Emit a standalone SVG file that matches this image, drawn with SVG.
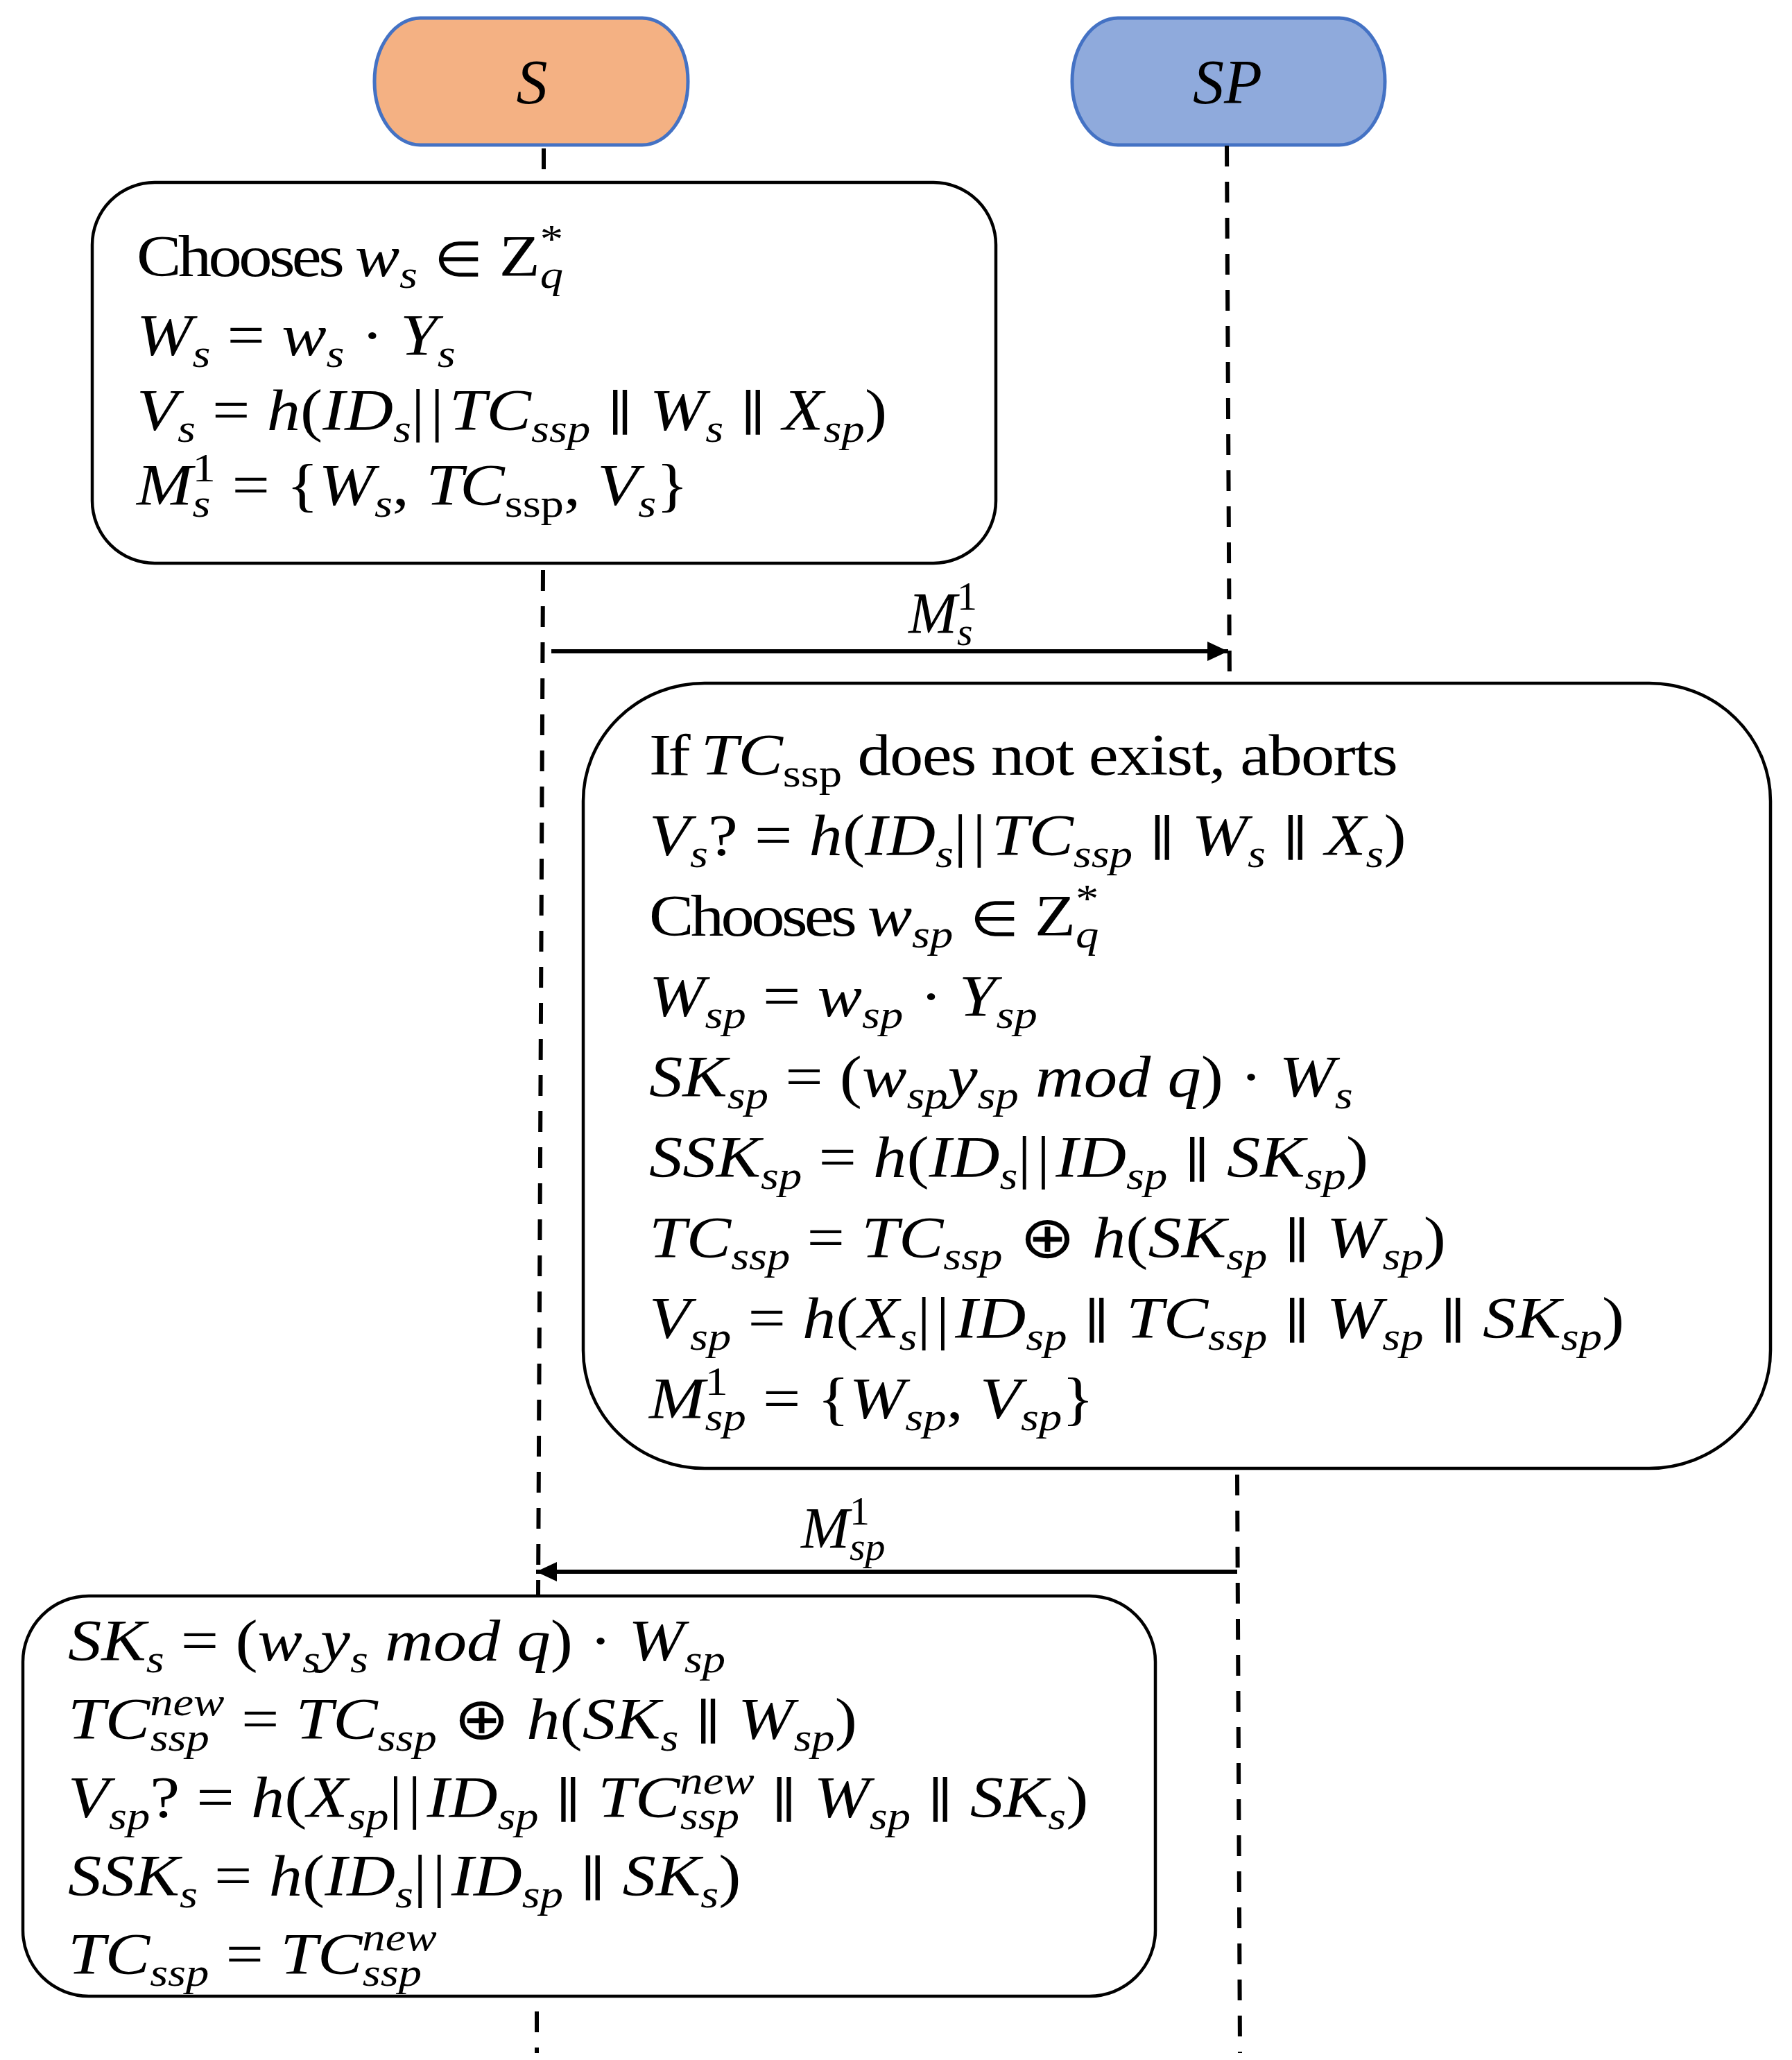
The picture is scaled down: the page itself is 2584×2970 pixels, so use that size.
<svg xmlns="http://www.w3.org/2000/svg" width="2584" height="2970" viewBox="0 0 2584 2970">
<style>
.t{font-family:"Liberation Serif",serif;font-size:84px;font-style:italic;fill:#000}
.u{font-style:normal}
.s{font-size:58px}
.w1{letter-spacing:-4px}
.w2{letter-spacing:-1.5px}
.el{font-size:70px}
.bb{letter-spacing:7px}
.par{font-family:"DejaVu Serif",serif;font-size:70px;font-style:normal}
.box{fill:#fff;stroke:#000;stroke-width:4.5}
.life{fill:none;stroke:#000;stroke-width:6;stroke-dasharray:30 22}
.msg{fill:none;stroke:#000;stroke-width:6}
.lbl{font-family:"Liberation Serif",serif;font-size:90px;font-style:italic;fill:#000;text-anchor:middle}
</style>
<defs>
<marker id="ah" markerUnits="userSpaceOnUse" markerWidth="34" markerHeight="32" refX="30" refY="16" orient="auto">
<path d="M0,2 L30,16 L0,30 Z" fill="#000"/>
</marker>
</defs>

<g id="node-S">
<rect x="540" y="26" width="452" height="183" rx="66" ry="91" fill="#F4B183" stroke="#4472C4" stroke-width="5"/>
<text class="lbl" x="767" y="149">S</text>
</g>
<g id="node-SP">
<rect x="1546" y="26" width="451" height="183" rx="66" ry="91" fill="#8FAADC" stroke="#4472C4" stroke-width="5"/>
<text class="lbl" x="1770" y="149">SP</text>
</g>

<g id="connectors">
<line class="life" x1="784" y1="214" x2="784" y2="262"/>
<line class="life" x1="783" y1="822" x2="776" y2="2300"/>
<line class="life" x1="774" y1="2900" x2="774" y2="2960"/>
<line class="life" x1="1769" y1="210" x2="1773" y2="985"/>
<line class="life" x1="1784" y1="2126" x2="1788" y2="2960"/>
<line class="msg" x1="795" y1="939" x2="1771" y2="939" marker-end="url(#ah)"/>
<line class="msg" x1="1784" y1="2266" x2="773" y2="2266" marker-end="url(#ah)"/>
<text class="t" x="1310" y="913">M<tspan class="s u" dy="-34">1</tspan><tspan class="s" dx="-29" dy="51">s</tspan></text>
<text class="t" x="1155" y="2232">M<tspan class="s u" dy="-34">1</tspan><tspan class="s" dx="-29" dy="51">sp</tspan></text>
</g>

<g id="box-S1">
<rect class="box" x="133" y="263" width="1303" height="549" rx="90" ry="90"/>
<g transform="translate(197,398) scale(1.15,1)"><text class="t"><tspan class="u w1">Chooses </tspan>w<tspan class="s" dy="17">s</tspan><tspan class="u" dy="-17"> <tspan class="el">∈</tspan> Z</tspan><tspan class="s u" dy="-34">*</tspan><tspan class="s" dx="-29" dy="51">q</tspan></text></g>
<g transform="translate(197,512) scale(1.15,1)"><text class="t">W<tspan class="s" dy="17">s</tspan><tspan class="u" dy="-17"> = </tspan>w<tspan class="s" dy="17">s</tspan><tspan class="u" dy="-17"> · </tspan>Y<tspan class="s" dy="17">s</tspan></text></g>
<g transform="translate(197,620) scale(1.15,1)"><text class="t">V<tspan class="s" dy="17">s</tspan><tspan class="u" dy="-17"> = </tspan>h<tspan class="u">(</tspan>ID<tspan class="s" dy="17">s</tspan><tspan class="u bb" dy="-17">||</tspan>TC<tspan class="s" dy="17">ssp</tspan><tspan class="u" dy="-17"> <tspan class="par">∥</tspan> </tspan>W<tspan class="s" dy="17">s</tspan><tspan class="u" dy="-17"> <tspan class="par">∥</tspan> </tspan>X<tspan class="s" dy="17">sp</tspan><tspan class="u" dy="-17">)</tspan></text></g>
<g transform="translate(197,728) scale(1.15,1)"><text class="t">M<tspan class="s u" dy="-34">1</tspan><tspan class="s" dx="-29" dy="51">s</tspan><tspan class="u" dx="6" dy="-17"> = {</tspan>W<tspan class="s" dy="17">s</tspan><tspan class="u" dy="-17">, </tspan>T<tspan dx="-4">C</tspan><tspan class="s u" dy="17">ssp</tspan><tspan class="u" dy="-17">, </tspan>V<tspan class="s" dy="17">s</tspan><tspan class="u" dy="-17">}</tspan></text></g>
</g>

<g id="box-SP1">
<rect class="box" x="841" y="985" width="1712" height="1132" rx="175" ry="170"/>
<g transform="translate(936,1117) scale(1.15,1)"><text class="t"><tspan class="u w1">If </tspan>TC<tspan class="s u" dy="17">ssp</tspan><tspan class="u w2" dy="-17"> does not exist, aborts</tspan></text></g>
<g transform="translate(936,1233) scale(1.15,1)"><text class="t">V<tspan class="s" dy="17">s</tspan><tspan class="u" dy="-17">? = </tspan>h<tspan class="u">(</tspan>ID<tspan class="s" dy="17">s</tspan><tspan class="u bb" dy="-17">||</tspan>TC<tspan class="s" dy="17">ssp</tspan><tspan class="u" dy="-17"> <tspan class="par">∥</tspan> </tspan>W<tspan class="s" dy="17">s</tspan><tspan class="u" dy="-17"> <tspan class="par">∥</tspan> </tspan>X<tspan class="s" dy="17">s</tspan><tspan class="u" dy="-17">)</tspan></text></g>
<g transform="translate(936,1349) scale(1.15,1)"><text class="t"><tspan class="u w1">Chooses </tspan>w<tspan class="s" dy="17">sp</tspan><tspan class="u" dy="-17"> <tspan class="el">∈</tspan> Z</tspan><tspan class="s u" dy="-34">*</tspan><tspan class="s" dx="-29" dy="51">q</tspan></text></g>
<g transform="translate(936,1465) scale(1.15,1)"><text class="t">W<tspan class="s" dy="17">sp</tspan><tspan class="u" dy="-17"> = </tspan>w<tspan class="s" dy="17">sp</tspan><tspan class="u" dy="-17"> · </tspan>Y<tspan class="s" dy="17">sp</tspan></text></g>
<g transform="translate(936,1581) scale(1.15,1)"><text class="t">SK<tspan class="s" dy="17">sp</tspan><tspan class="u" dy="-17"> = (</tspan>w<tspan class="s" dy="17">sp</tspan><tspan dy="-17">y</tspan><tspan class="s" dy="17">sp</tspan><tspan dy="-17"> mod q</tspan><tspan class="u">) · </tspan>W<tspan class="s" dy="17">s</tspan></text></g>
<g transform="translate(936,1697) scale(1.15,1)"><text class="t">SSK<tspan class="s" dy="17">sp</tspan><tspan class="u" dy="-17"> = </tspan>h<tspan class="u">(</tspan>ID<tspan class="s" dy="17">s</tspan><tspan class="u bb" dy="-17">||</tspan>ID<tspan class="s" dy="17">sp</tspan><tspan class="u" dy="-17"> <tspan class="par">∥</tspan> </tspan>SK<tspan class="s" dy="17">sp</tspan><tspan class="u" dy="-17">)</tspan></text></g>
<g transform="translate(936,1813) scale(1.15,1)"><text class="t">TC<tspan class="s" dy="17">ssp</tspan><tspan class="u" dy="-17"> = </tspan>TC<tspan class="s" dy="17">ssp</tspan><tspan class="u" dy="-17"> ⊕ </tspan>h<tspan class="u">(</tspan>SK<tspan class="s" dy="17">sp</tspan><tspan class="u" dy="-17"> <tspan class="par">∥</tspan> </tspan>W<tspan class="s" dy="17">sp</tspan><tspan class="u" dy="-17">)</tspan></text></g>
<g transform="translate(936,1929) scale(1.15,1)"><text class="t">V<tspan class="s" dy="17">sp</tspan><tspan class="u" dy="-17"> = </tspan>h<tspan class="u">(</tspan>X<tspan class="s" dy="17">s</tspan><tspan class="u bb" dy="-17">||</tspan>ID<tspan class="s" dy="17">sp</tspan><tspan class="u" dy="-17"> <tspan class="par">∥</tspan> </tspan>TC<tspan class="s" dy="17">ssp</tspan><tspan class="u" dy="-17"> <tspan class="par">∥</tspan> </tspan>W<tspan class="s" dy="17">sp</tspan><tspan class="u" dy="-17"> <tspan class="par">∥</tspan> </tspan>SK<tspan class="s" dy="17">sp</tspan><tspan class="u" dy="-17">)</tspan></text></g>
<g transform="translate(936,2045) scale(1.15,1)"><text class="t">M<tspan class="s u" dy="-34">1</tspan><tspan class="s" dx="-29" dy="51">sp</tspan><tspan class="u" dy="-17"> = {</tspan>W<tspan class="s" dy="17">sp</tspan><tspan class="u" dy="-17">, </tspan>V<tspan class="s" dy="17">sp</tspan><tspan class="u" dy="-17">}</tspan></text></g>
</g>

<g id="box-S2">
<rect class="box" x="33" y="2301" width="1633" height="577" rx="95" ry="95"/>
<g transform="translate(98,2394) scale(1.15,1)"><text class="t">SK<tspan class="s" dy="17">s</tspan><tspan class="u" dy="-17"> = (</tspan>w<tspan class="s" dy="17">s</tspan><tspan dy="-17">y</tspan><tspan class="s" dy="17">s</tspan><tspan dy="-17"> mod q</tspan><tspan class="u">) · </tspan>W<tspan class="s" dy="17">sp</tspan></text></g>
<g transform="translate(98,2507) scale(1.15,1)"><text class="t">TC<tspan class="s" dy="-34">new</tspan><tspan class="s" dx="-93" dy="51">ssp</tspan><tspan class="u" dx="19" dy="-17"> = </tspan>TC<tspan class="s" dy="17">ssp</tspan><tspan class="u" dy="-17"> ⊕ </tspan>h<tspan class="u">(</tspan>SK<tspan class="s" dy="17">s</tspan><tspan class="u" dy="-17"> <tspan class="par">∥</tspan> </tspan>W<tspan class="s" dy="17">sp</tspan><tspan class="u" dy="-17">)</tspan></text></g>
<g transform="translate(98,2620) scale(1.15,1)"><text class="t">V<tspan class="s" dy="17">sp</tspan><tspan class="u" dy="-17">? = </tspan>h<tspan class="u">(</tspan>X<tspan class="s" dy="17">sp</tspan><tspan class="u bb" dy="-17">||</tspan>ID<tspan class="s" dy="17">sp</tspan><tspan class="u" dy="-17"> <tspan class="par">∥</tspan> </tspan>TC<tspan class="s" dy="-34">new</tspan><tspan class="s" dx="-93" dy="51">ssp</tspan><tspan class="u" dx="19" dy="-17"> <tspan class="par">∥</tspan> </tspan>W<tspan class="s" dy="17">sp</tspan><tspan class="u" dy="-17"> <tspan class="par">∥</tspan> </tspan>SK<tspan class="s" dy="17">s</tspan><tspan class="u" dy="-17">)</tspan></text></g>
<g transform="translate(98,2733) scale(1.15,1)"><text class="t">SSK<tspan class="s" dy="17">s</tspan><tspan class="u" dy="-17"> = </tspan>h<tspan class="u">(</tspan>ID<tspan class="s" dy="17">s</tspan><tspan class="u bb" dy="-17">||</tspan>ID<tspan class="s" dy="17">sp</tspan><tspan class="u" dy="-17"> <tspan class="par">∥</tspan> </tspan>SK<tspan class="s" dy="17">s</tspan><tspan class="u" dy="-17">)</tspan></text></g>
<g transform="translate(98,2846) scale(1.15,1)"><text class="t">TC<tspan class="s" dy="17">ssp</tspan><tspan class="u" dy="-17"> = </tspan>TC<tspan class="s" dy="-34">new</tspan><tspan class="s" dx="-93" dy="51">ssp</tspan></text></g>
</g>
</svg>
